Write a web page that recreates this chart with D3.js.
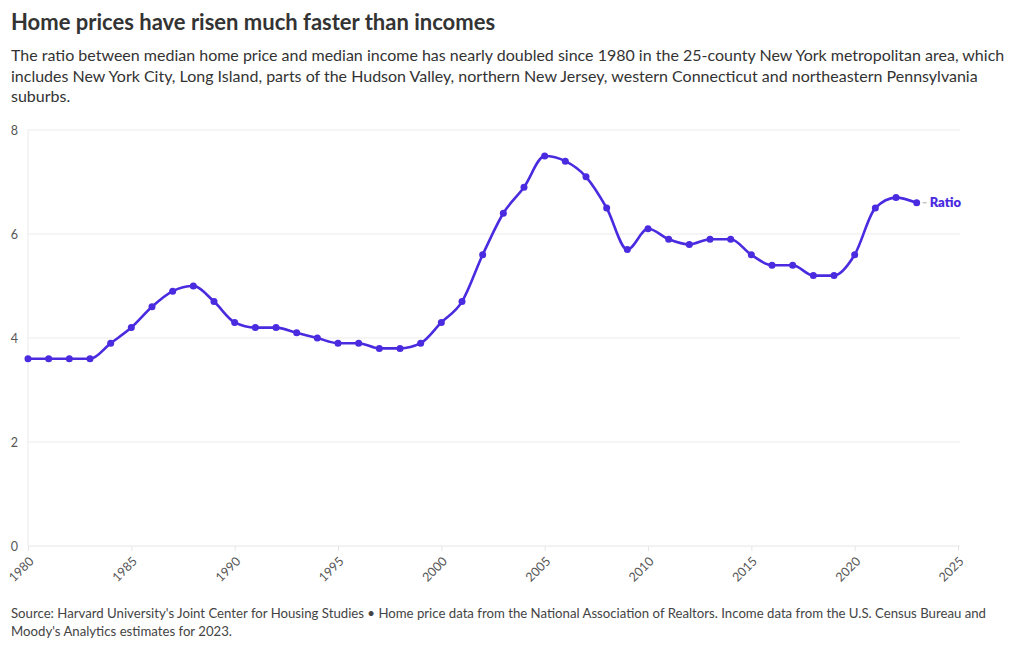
<!DOCTYPE html>
<html><head><meta charset="utf-8">
<script src="https://cdn.jsdelivr.net/npm/d3@7"></script>
<style>
body{margin:0;background:#fff;font-family:Lato,"Open Sans",sans-serif;}
svg text{font-family:Lato,"Open Sans",sans-serif;}
</style></head><body>
<svg id="c" width="1020" height="650"></svg>
<script>
const years = d3.range(1980, 2024);
const ratio = [3.6,3.6,3.6,3.6,3.9,4.2,4.6,4.9,5.0,4.7,4.3,4.2,4.2,4.1,4.0,3.9,3.9,3.8,3.8,3.9,
  4.3,4.7,5.6,6.4,6.9,7.5,7.4,7.1,6.5,5.7,6.1,5.9,5.8,5.9,5.9,5.6,5.4,5.4,5.2,5.2,5.6,6.5,6.7,6.6];
const xTicks = [1980,1985,1990,1995,2000,2005,2010,2015,2020,2025];
const yTicks = [0,2,4,6,8];
const seriesName = "Ratio";
const title = "Home prices have risen much faster than incomes";
const subtitleLines = [
 "The ratio between median home price and median income has nearly doubled since 1980 in the 25-county New York metropolitan area, which",
 "includes New York City, Long Island, parts of the Hudson Valley, northern New Jersey, western Connecticut and northeastern Pennsylvania",
 "suburbs."];
const sourceLines = [
 "Source: Harvard University's Joint Center for Housing Studies \u2022 Home price data from the National Association of Realtors. Income data from the U.S. Census Bureau and",
 "Moody's Analytics estimates for 2023."];

const color = "#4a2bdf";
const svg = d3.select("#c");
const x = d3.scaleLinear().domain([1980,2025]).range([28,958]);
const y = d3.scaleLinear().domain([0,8]).range([546,130]);

svg.append("text").attr("x",11).attr("y",30).attr("font-size",22).attr("font-weight",700)
  .attr("fill","#333").text(title);
const st = svg.append("text").attr("font-size",16).attr("fill","#333");
subtitleLines.forEach((l,i)=>st.append("tspan").attr("x",11).attr("y",61+i*20.5).text(l));

// grid
svg.append("g").selectAll("line").data(yTicks.filter(d=>d>0)).join("line")
  .attr("x1",28).attr("x2",960).attr("y1",d=>y(d)).attr("y2",d=>y(d))
  .attr("stroke","#ebebeb").attr("stroke-width",1);
// y axis line
svg.append("line").attr("x1",28).attr("x2",28).attr("y1",130).attr("y2",546).attr("stroke","#ebebeb");
svg.append("g").selectAll("text").data(yTicks).join("text")
  .attr("x",18).attr("y",d=>y(d)+4.5).attr("text-anchor","end").attr("font-size",12.5)
  .attr("fill","#555").text(d=>d);

// x axis
const xa = svg.append("g").attr("transform","translate(0,546)")
  .call(d3.axisBottom(x).tickValues(xTicks).tickFormat(d3.format("d")).tickSize(5));
xa.select(".domain").attr("stroke","#e6e6e6").attr("d","M28,0H960");
xa.selectAll(".tick line").attr("stroke","#e6e6e6");
xa.selectAll(".tick text").attr("font-size",12.5).attr("fill","#555")
  .attr("text-anchor","end").attr("x",0).attr("y",0).attr("dy","0.35em")
  .attr("transform","translate(3,13) rotate(-45)").attr("font-family","Lato, sans-serif");

// line
const data = years.map((yr,i)=>({yr,v:ratio[i]}));
svg.append("path").datum(data)
  .attr("d",d3.line().x(d=>x(d.yr)).y(d=>y(d.v)).curve(d3.curveMonotoneX))
  .attr("fill","none").attr("stroke",color).attr("stroke-width",2.6);
svg.append("g").selectAll("circle").data(data).join("circle")
  .attr("cx",d=>x(d.yr)).attr("cy",d=>y(d.v)).attr("r",3.5).attr("fill",color);

const last = data[data.length-1];
svg.append("line").attr("x1",x(last.yr)+6).attr("x2",x(last.yr)+10)
  .attr("y1",y(last.v)).attr("y2",y(last.v)).attr("stroke","#aaa");
svg.append("text").attr("x",x(last.yr)+13).attr("y",y(last.v)+4.5)
  .attr("font-size",13).attr("font-weight",800).attr("fill",color).text(seriesName);

const so = svg.append("text").attr("font-size",13.2).attr("fill","#444");
sourceLines.forEach((l,i)=>so.append("tspan").attr("x",11).attr("y",618+i*18).text(l));
</script></body></html>
